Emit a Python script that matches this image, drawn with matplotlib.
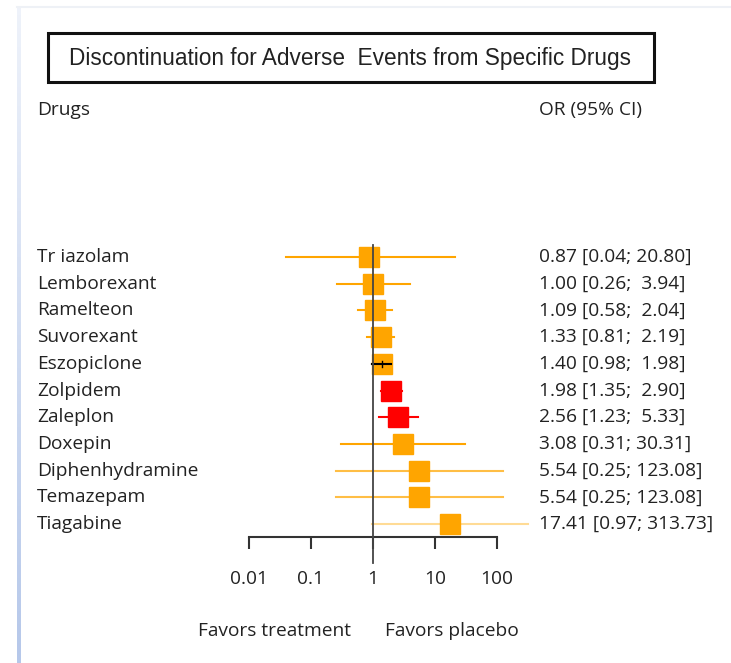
import numpy as np
import matplotlib.pyplot as plt
from matplotlib.patches import Rectangle
from matplotlib.colors import LinearSegmentedColormap

drugs = ["Tr iazolam", "Lemborexant", "Ramelteon", "Suvorexant", "Eszopiclone", "Zolpidem",
         "Zaleplon", "Doxepin", "Diphenhydramine", "Temazepam", "Tiagabine"]
odds = [0.87, 1.00, 1.09, 1.33, 1.40, 1.98, 2.56, 3.08, 5.54, 5.54, 17.41]
lower = [0.04, 0.26, 0.58, 0.81, 0.98, 1.35, 1.23, 0.31, 0.25, 0.25, 0.97]
upper = [20.80, 3.94, 2.04, 2.19, 1.98, 2.90, 5.33, 30.31, 123.08, 123.08, 313.73]
box_colors = ["#FFA500"] * 5 + ["#FF0000"] * 2 + ["#FFA500"] * 4
line_colors = ["#FFA500", "#FFA500", "#FFA500", "#FFA500", "black", "#FF0000", "#FF0000",
               "#FFA500", "#FFBE45", "#FFBE45", "#FFDB95"]
ticks = [0.01, 0.1, 1, 10, 100]
tick_labels = ["0.01", "0.1", "1", "10", "100"]

W, H = 731, 663
fig = plt.figure(figsize=(W / 100, H / 100), dpi=100)
fig.patch.set_facecolor("white")


def fx(x):
    return x / W


def fy(y):
    return 1 - y / H


lab_font = "Open Sans"
fs = 13.8
txt_col = "#222222"

# page frame bits (faint top line and blue side bar)
fig.add_artist(plt.Line2D([fx(17), 1], [fy(7), fy(7)], color="#eef1f6", lw=1.5))
bar = fig.add_axes([fx(17), 0, fx(3.5), fy(8)])
cmap = LinearSegmentedColormap.from_list("side", ["#eef2fa", "#b6c8ea"])
bar.imshow(np.linspace(0, 1, 100).reshape(-1, 1), aspect="auto", cmap=cmap)
bar.axis("off")

# title box
fig.add_artist(Rectangle((fx(48), fy(82)), fx(654) - fx(48), fy(33) - fy(82),
                         fill=False, ec="#111111", lw=2.2))
fig.text(fx(350), fy(59), "Discontinuation for Adverse  Events from Specific Drugs",
         ha="center", va="center", fontsize=16.3, family="Liberation Sans", color=txt_col)

fig.text(fx(37), fy(110), "Drugs", ha="left", va="center", fontsize=fs, family=lab_font, color=txt_col)
fig.text(fx(539), fy(110), "OR (95% CI)", ha="left", va="center", fontsize=fs, family=lab_font, color=txt_col)

# forest plot
row0, step = 257, 26.7
top_px, bot_px = 245, 537
ax = fig.add_axes([fx(249), fy(bot_px), fx(497) - fx(249), fy(top_px) - fy(bot_px)])
ax.set_xscale("log")
ax.set_xlim(0.01, 100)
ax.set_ylim((bot_px - row0) / step, (top_px - row0) / step)
ax.patch.set_alpha(0)

rows = np.arange(len(drugs))
for i in rows:
    ax.plot([lower[i], upper[i]], [i, i], color=line_colors[i], lw=1.5, clip_on=False, zorder=2)
    ax.plot(odds[i], i, marker="s", ms=14.8, color=box_colors[i], mec=box_colors[i], clip_on=False, zorder=3)
    if line_colors[i] == "black":
        ax.plot([lower[i], upper[i]], [i, i], color="black", lw=1.5, clip_on=False, zorder=4)
        ax.plot([odds[i]] * 2, [i - 0.12, i + 0.12], color="black", lw=1, clip_on=False, zorder=4)
    fig.text(fx(37), fy(row0 + step * i), drugs[i], ha="left", va="center",
             fontsize=fs, family=lab_font, color=txt_col)
    fig.text(fx(539), fy(row0 + step * i), f"{odds[i]:.2f} [{lower[i]:.2f}; {upper[i]:5.2f}]",
             ha="left", va="center", fontsize=fs, family=lab_font, color=txt_col)

ax.plot([1, 1], [(top_px - row0) / step, (563 - row0) / step], color="#444444", lw=1.3,
        clip_on=False, zorder=5)

for s in ["top", "left", "right"]:
    ax.spines[s].set_visible(False)
ax.spines["bottom"].set_color("#333333")
ax.spines["bottom"].set_linewidth(1.5)
ax.set_yticks([])
ax.set_xticks(ticks)
ax.set_xticklabels(tick_labels, family=lab_font, fontsize=fs, color=txt_col)
ax.minorticks_off()
ax.tick_params(axis="x", direction="out", length=8.6, width=1.5, color="#333333", pad=15.5)

fig.text(fx(275), fy(631), "Favors treatment", ha="center", va="center", fontsize=fs,
         family=lab_font, color=txt_col)
fig.text(fx(452), fy(631), "Favors placebo", ha="center", va="center", fontsize=fs,
         family=lab_font, color=txt_col)

fig.savefig("out.png", dpi=100)
